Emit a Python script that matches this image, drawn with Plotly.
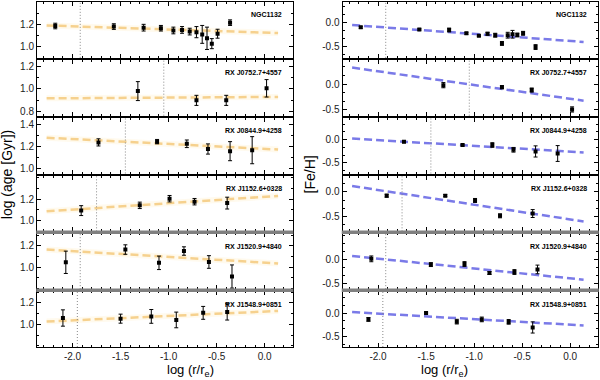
import plotly.graph_objects as go
from plotly.subplots import make_subplots

# galaxies, top to bottom
names = ["NGC1132", "RX J0752.7+4557", "RX J0844.9+4258",
         "RX J1152.6+0328", "RX J1520.9+4840", "RX J1548.9+0851"]

# radial bins log(r/re)
radius = [
    [-2.18, -1.57, -1.26, -1.08, -0.95, -0.86, -0.78, -0.71, -0.65, -0.60, -0.55, -0.49, -0.36],
    [-1.32, -0.71, -0.40, 0.02],
    [-1.73, -1.12, -0.81, -0.59, -0.36, -0.13],
    [-1.91, -1.30, -0.99, -0.73, -0.39],
    [-2.07, -1.45, -1.10, -0.84, -0.58, -0.34],
    [-2.10, -1.50, -1.18, -0.92, -0.64, -0.39],
]

log_age = [
    [1.185, 1.18, 1.17, 1.165, 1.145, 1.15, 1.135, 1.13, 1.11, 1.075, 1.027, 1.116, 1.215],
    [0.98, 0.897, 0.897, 1.005],
    [1.237, 1.244, 1.224, 1.176, 1.156, 1.165],
    [1.093, 1.142, 1.204, 1.176, 1.163],
    [1.045, 1.166, 1.04, 1.152, 1.048, 0.91],
    [1.06, 1.054, 1.075, 1.042, 1.108, 1.117],
]
log_age_err = [
    [0.025, 0.025, 0.03, 0.025, 0.03, 0.03, 0.03, 0.05, 0.08, 0.1, 0.045, 0.04, 0.025],
    [0.085, 0.045, 0.045, 0.078],
    [0.033, 0.02, 0.035, 0.047, 0.088, 0.125],
    [0.046, 0.03, 0.03, 0.03, 0.055],
    [0.106, 0.045, 0.064, 0.04, 0.06, 0.11],
    [0.076, 0.042, 0.064, 0.073, 0.06, 0.076],
]

feh = [
    [-0.096, -0.14, -0.152, -0.22, -0.27, -0.23, -0.26, -0.43, -0.26, -0.24, -0.255, -0.22, -0.506],
    [-0.02, -0.058, -0.115, -0.49],
    [-0.048, -0.118, -0.118, -0.22, -0.256, -0.30],
    [-0.078, -0.078, -0.175, -0.486, -0.44],
    [0.02, -0.10, -0.088, -0.274, -0.254, -0.20],
    [-0.137, 0.0, -0.185, -0.137, -0.19, -0.31],
]
feh_err = [
    [0.02, 0.015, 0.04, 0.02, 0.015, 0.03, 0.04, 0.04, 0.06, 0.08, 0.04, 0.04, 0.05],
    [0.05, 0.03, 0.04, 0.05],
    [0.02, 0.02, 0.05, 0.05, 0.12, 0.17],
    [0.03, 0.02, 0.04, 0.04, 0.08],
    [0.06, 0.04, 0.05, 0.03, 0.05, 0.09],
    [0.04, 0.02, 0.05, 0.05, 0.05, 0.12],
]

# gradient fits (endpoints)
fit_x = [-2.27, 0.14]
fit_age = [[1.19, 1.122], [0.915, 0.928], [1.28, 1.171],
           [1.086, 1.23], [1.166, 1.034], [1.027, 1.126]]
fit_feh = [[-0.048, -0.40], [0.32, -0.32], [0.02, -0.277],
           [0.117, -0.60], [0.08, -0.414], [0.02, -0.267]]

# seeing limit
seeing = [-1.92, -1.05, -1.45, -1.75, -1.92, -1.95]

age_ranges = [[0.9, 1.4], [0.76, 1.26], [0.95, 1.465], [0.9, 1.42], [0.79, 1.32], [0.79, 1.31]]
feh_ranges = [[-0.73, 0.43], [-0.61, 0.47], [-0.73, 0.47], [-0.80, 0.33], [-0.61, 0.55], [-0.73, 0.47]]
age_ticks = [[1.0, 1.2], [0.8, 1.0, 1.2], [1.0, 1.2, 1.4], [1.0, 1.2], [1.0, 1.2], [1.0, 1.2]]
feh_ticks = [0.0, -0.5]
feh_tick_labels = ["0.0", "-0.5"]
x_ticks = [-2.0, -1.5, -1.0, -0.5, 0.0]
x_tick_labels = ["-2.0", "-1.5", "-1.0", "-0.5", "0.0"]

W, H = 600, 380
mt, mb, ml, mr = 2, 33, 37, 2
ph = H - mt - mb

fig = make_subplots(rows=6, cols=2, shared_xaxes=True,
                    vertical_spacing=2.0 / ph, horizontal_spacing=50.0 / (W - ml - mr))

font = "Liberation Sans, Arial, Helvetica, sans-serif"

for i in range(6):
    r = i + 1
    for c, (ys, es, fit, col, halo) in enumerate([
            (log_age, log_age_err, fit_age, "#f6d18e", "rgba(255,240,205,0.35)"),
            (feh, feh_err, fit_feh, "#7a7ae8", None)]):
        if halo:
            fig.add_trace(go.Scatter(x=fit_x, y=fit[i], mode="lines",
                                     line=dict(color=halo, width=6),
                                     hoverinfo="skip", showlegend=False), row=r, col=c + 1)
        fig.add_trace(go.Scatter(x=fit_x, y=fit[i], mode="lines",
                                 line=dict(color=col, width=2.5, dash="8px,4px"),
                                 showlegend=False), row=r, col=c + 1)
        fig.add_trace(go.Scatter(x=radius[i], y=ys[i], mode="markers",
                                 marker=dict(symbol="square", size=4, color="black"),
                                 error_y=dict(type="data", array=es[i], color="black",
                                              thickness=1, width=2),
                                 showlegend=False), row=r, col=c + 1)
        fig.add_vline(x=seeing[i], line=dict(color="#888888", width=1, dash="1px,2px"),
                      row=r, col=c + 1)
        n = 2 * i + c + 1
        ax = "" if n == 1 else str(n)
        fig.add_annotation(text="<b>%s</b>" % names[i], xref="x%s domain" % ax,
                           yref="y%s domain" % ax,
                           x=0.965, y=0.77, xanchor="right", yanchor="middle", showarrow=False,
                           font=dict(family=font, size=7, color="black"))

    fig.update_yaxes(range=age_ranges[i], tickvals=age_ticks[i],
                     ticktext=["%.1f" % v for v in age_ticks[i]],
                     minor=dict(dtick=0.1, tick0=0, ticklen=2, ticks="inside", tickcolor="black"),
                     row=r, col=1)
    fig.update_yaxes(range=feh_ranges[i], tickvals=feh_ticks, ticktext=feh_tick_labels,
                     minor=dict(dtick=0.5 / 3, tick0=0, ticklen=2, ticks="inside", tickcolor="black"),
                     row=r, col=2)

fig.update_xaxes(range=[-2.37, 0.29], tickvals=x_ticks, ticktext=x_tick_labels,
                 ticks="inside", ticklen=4, tickcolor="black", mirror="allticks",
                 showline=True, linecolor="black", linewidth=1, showgrid=False, zeroline=False,
                 minor=dict(dtick=0.1, tick0=0, ticklen=2, ticks="inside", tickcolor="black"),
                 tickfont=dict(family=font, size=10, color="#222222"))
fig.update_yaxes(ticks="inside", ticklen=4, tickcolor="black", mirror="allticks",
                 showline=True, linecolor="black", linewidth=1, showgrid=False, zeroline=False,
                 tickfont=dict(family=font, size=10, color="#222222"))

# gray separators between lower panels
for k in [4, 5]:
    top = fig.layout["yaxis%d" % (2 * k + 1)].domain[1]
    bot = fig.layout["yaxis%d" % (2 * k - 1)].domain[0]
    for xd in [fig.layout.xaxis.domain, fig.layout.xaxis2.domain]:
        fig.add_shape(type="rect", xref="paper", yref="paper", x0=xd[0], x1=xd[1],
                      y0=top, y1=bot, line=dict(color="#808080", width=1.5), fillcolor="#808080")

xd1 = fig.layout.xaxis.domain
xd2 = fig.layout.xaxis2.domain
for xd in [xd1, xd2]:
    fig.add_annotation(text="log (r/r<sub>e</sub>)", xref="paper", yref="paper",
                       x=(xd[0] + xd[1]) / 2, y=-0.038, yanchor="top", showarrow=False,
                       font=dict(family=font, size=13, color="black"))
fig.add_annotation(text="log (age [Gyr])", xref="paper", yref="paper", textangle=-90,
                   x=-0.054, y=0.5, xanchor="center", showarrow=False,
                   font=dict(family=font, size=14, color="black"))
fig.add_annotation(text="[Fe/H]", xref="paper", yref="paper", textangle=-90,
                   x=xd2[0] - 0.058, y=0.5, xanchor="center", showarrow=False,
                   font=dict(family=font, size=14, color="black"))

fig.update_layout(width=W, height=H, margin=dict(l=ml, r=mr, t=mt, b=mb),
                  plot_bgcolor="white", paper_bgcolor="white", showlegend=False)

# drop the page's default body margin so the figure sits at the window corner
fig.write_html("out.html", config={"displayModeBar": False},
               post_script="document.body.style.margin='0px';")
